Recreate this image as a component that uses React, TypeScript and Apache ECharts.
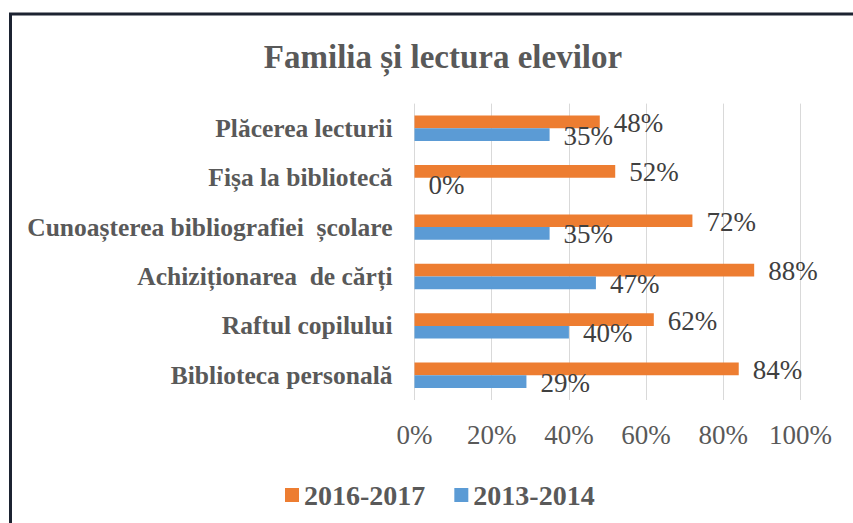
import React, { useEffect, useRef } from "react";
import * as echarts from "echarts";

const categories = [
  "Plăcerea lecturii",
  "Fișa la bibliotecă",
  "Cunoașterea bibliografiei  școlare",
  "Achiziționarea  de cărți",
  "Raftul copilului",
  "Biblioteca personală",
];
const series2016 = [48, 52, 72, 88, 62, 84];
const series2013 = [35, 0, 35, 47, 40, 29];
const xTicks = [0, 20, 40, 60, 80, 100];

const FONT = "Liberation Serif";

export default function App() {
  const ref = useRef<HTMLDivElement>(null);
  useEffect(() => {
    document.body.style.margin = "0";
    const chart = echarts.init(ref.current!, null, { renderer: "svg" });
    chart.setOption({
      animation: false,
      backgroundColor: "#ffffff",
      title: {
        text: "Familia și lectura elevilor",
        left: 438,
        textAlign: "center",
        top: 35,
        textStyle: { fontFamily: FONT, fontSize: 33, fontWeight: "bold", color: "#595959" },
      },
      graphic: [
        {
          type: "rect",
          shape: { x: 10.5, y: 14, width: 900, height: 600 },
          style: { fill: "none", stroke: "#1c2331", lineWidth: 3 },
          silent: true,
        },
      ],
      legend: {
        left: 280,
        top: 476,
        itemWidth: 14,
        itemHeight: 14,
        itemGap: 29,
        icon: "rect",
        textStyle: { fontFamily: FONT, fontSize: 28, fontWeight: "bold", color: "#595959" },
        data: ["2016-2017", "2013-2014"],
      },
      grid: { left: 414.5, right: 52.5, top: 103.6, bottom: 123, containLabel: false },
      xAxis: {
        type: "value",
        min: 0,
        max: 100,
        interval: 20,
        axisLine: { show: false },
        axisTick: { show: false },
        splitLine: { show: true, lineStyle: { color: "#d9d9d9", width: 1 } },
        axisLabel: {
          formatter: (v: number) => (xTicks.includes(v) ? v + "%" : ""),
          fontFamily: FONT,
          fontSize: 27,
          color: "#595959",
          margin: 21,
        },
      },
      yAxis: {
        type: "category",
        data: categories,
        inverse: true,
        axisLine: { show: false },
        axisTick: { show: false },
        axisLabel: {
          fontFamily: FONT,
          fontSize: 25.5,
          fontWeight: "bold",
          color: "#595959",
          margin: 22,
        },
      },
      series: [
        {
          name: "2016-2017",
          type: "bar",
          data: series2016,
          barWidth: 12.7,
          barGap: "0%",
          itemStyle: { color: "#ED7D31" },
          label: {
            show: true,
            position: "right",
            distance: 14,
            offset: [0, 1],
            formatter: "{c}%",
            fontFamily: FONT,
            fontSize: 27,
            color: "#404040",
          },
        },
        {
          name: "2013-2014",
          type: "bar",
          data: series2013,
          barWidth: 12.7,
          barGap: "0%",
          itemStyle: { color: "#5B9BD5" },
          label: {
            show: true,
            position: "right",
            distance: 14,
            offset: [0, 1],
            formatter: "{c}%",
            fontFamily: FONT,
            fontSize: 27,
            color: "#404040",
          },
        },
      ],
    });
    return () => chart.dispose();
  }, []);
  return (
    <div style={{ position: "fixed", left: 0, top: 0 }}>
      <div ref={ref} style={{ width: 853, height: 523 }} />
    </div>
  );
}
